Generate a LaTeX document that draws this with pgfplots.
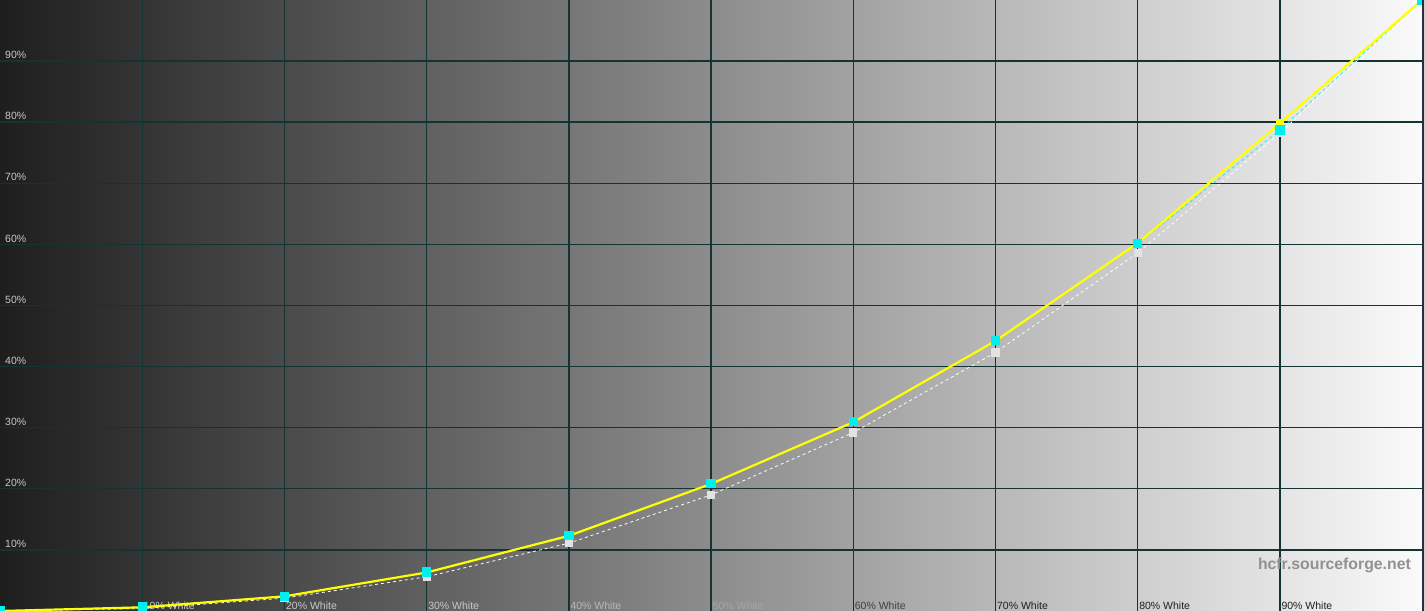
\documentclass[border=0pt]{standalone}
\usepackage{pgfplots}
\pgfplotsset{compat=1.18}
\usepackage{fontspec}
\setmainfont{Liberation Sans}
\definecolor{gridc}{HTML}{143434}
\definecolor{bgleft}{HTML}{1E1E1E}
\definecolor{bgright}{HTML}{FAFAFA}
\definecolor{lightlab}{HTML}{C8C8C8}
\definecolor{ycyan}{HTML}{00F0F0}
\definecolor{refsq}{HTML}{E2E2E2}
\definecolor{yel}{HTML}{FFFF00}
\begin{document}
\begin{tikzpicture}
\useasboundingbox (0,0) rectangle (1426bp,611bp);
\begin{axis}[
  at={(0,0)}, anchor=south west,
  scale only axis, width=1422bp, height=611bp,
  xmin=0, xmax=100, ymin=0, ymax=100,
  axis line style={draw=none},
  axis background/.style={left color=bgleft, right color=bgright},
  grid=major,
  major grid style={gridc, line width=1.4bp},
  major tick length=0pt,
  xtick={10,20,30,40,50,60,70,80,90},
  ytick={10,20,30,40,50,60,70,80,90},
  xticklabels={
    \textcolor{lightlab}{10\% White},
    \textcolor{lightlab}{20\% White},
    \textcolor{lightlab}{30\% White},
    \textcolor[HTML]{B8B8B8}{40\% White},
    \textcolor[HTML]{A6A6A6}{50\% White},
    \textcolor[HTML]{404040}{60\% White},
    \textcolor[HTML]{202020}{70\% White},
    \textcolor[HTML]{202020}{80\% White},
    \textcolor[HTML]{202020}{90\% White}},
  yticklabels={10\%,20\%,30\%,40\%,50\%,60\%,70\%,80\%,90\%},
  xticklabel style={anchor=south west, inner sep=0.5bp, xshift=1bp, yshift=1bp, font=\fontsize{10.5bp}{12bp}\selectfont},
  yticklabel style={anchor=south west, inner sep=1bp, xshift=4bp, yshift=1bp, text=lightlab, font=\fontsize{10.5bp}{12bp}\selectfont},
  clip marker paths=true,
]
% reference gamma 2.4 (white dashed, light squares)
\addplot[white, dashed, line width=0.8bp, mark=square*, mark size=3.6bp,
  mark options={solid, refsq, line width=0pt}] coordinates {
  (0,0) (10,0.4) (20,2.1) (30,5.6) (40,11.1) (50,19.0) (60,29.2) (70,42.3) (80,58.6) (90,78.2) (100,100)};
% cyan measured, thin dashed
\addplot[ycyan, dashed, line width=0.7bp] coordinates {
  (0,0) (10,0.7) (20,2.4) (30,6.4) (40,12.4) (50,20.9) (60,31.0) (70,44.3) (80,60.1) (90,78.7) (100,100)};
% yellow luminance line
\addplot[yel, line width=2.2bp, mark=square*, mark size=3.8bp,
  mark options={solid, yel, line width=0pt}] coordinates {
  (0,0) (10,0.6) (20,2.4) (30,6.3) (40,12.3) (50,20.8) (60,30.9) (70,44.2) (80,60.2) (90,79.8) (100,100)};
% cyan squares
\addplot[only marks, mark=square*, mark size=4.2bp,
  mark options={solid, ycyan, line width=0pt}] coordinates {
  (0,0) (10,0.7) (20,2.4) (30,6.4) (40,12.4) (50,20.9) (60,31.0) (70,44.3) (80,60.1) (90,78.7) (100,100)};
\end{axis}
\node[anchor=base east, inner sep=0pt, text=black!43, font=\bfseries\fontsize{15.8bp}{18bp}\selectfont] at (1411bp,41bp) {hcfr.sourceforge.net};
\fill[black!18] (1422bp,0) rectangle (1426bp,611bp);
\draw[color={rgb,255:red,40;green,48;blue,60}, line width=1.6bp] (1422.8bp,0) -- (1422.8bp,611bp);
\end{tikzpicture}
\end{document}
